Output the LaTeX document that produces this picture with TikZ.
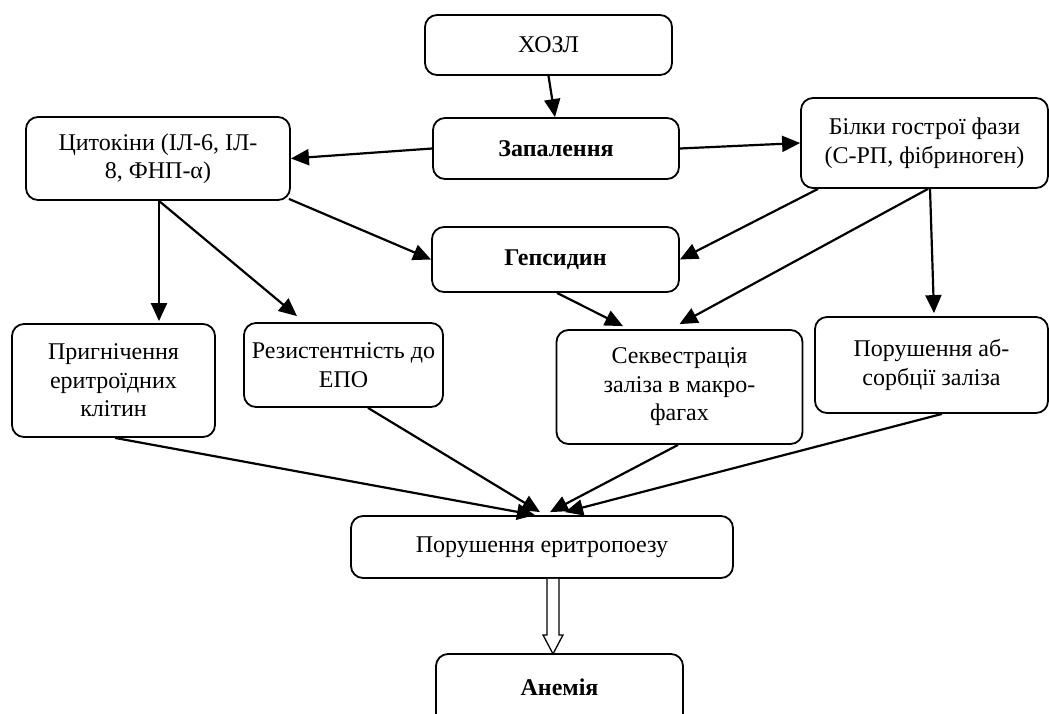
\documentclass[tikz,border=0pt]{standalone}
\usepackage{fontspec}
\setmainfont{Liberation Serif}
\usetikzlibrary{arrows.meta}
\begin{document}
\begin{tikzpicture}[x=1pt,y=-1pt,
  box/.style={draw, line width=1.8pt, rounded corners=12pt, inner sep=0pt, align=center,
    font=\fontsize{24}{28.5}\selectfont},
  bbox/.style={box, font=\fontsize{24}{28.5}\selectfont\bfseries},
  conn/.style={line width=2.2pt, -{Triangle[length=18pt,width=16pt]}},
  hollow/.style={draw, line width=1.3pt, fill=white}]
\clip (0,0) rectangle (1049,713);
\fill[white] (0,0) rectangle (1049,713);
\node[box, minimum width=247pt, minimum height=60pt] (hozl) at (548.5,45) {ХОЗЛ};
\node[bbox, minimum width=246pt, minimum height=61pt] (zap) at (556,148.5) {Запалення};
\node[box, minimum width=264pt, minimum height=83pt] (cyt) at (158,158.5) {Цитокіни (ІЛ-6, ІЛ-\\8, ФНП-α)};
\node[box, minimum width=247pt, minimum height=90pt] (bil) at (924.5,143) {Білки гострої фази\\(С-РП, фібриноген)};
\node[bbox, minimum width=247pt, minimum height=65pt] (hep) at (555.5,259.5) {Гепсидин};
\node[box, minimum width=203pt, minimum height=113pt] (prig) at (113.5,380.5) {Пригнічення\\еритроїдних\\клітин};
\node[box, minimum width=199pt, minimum height=84pt] (rez) at (343.5,365) {Резистентність до\\ЕПО};
\node[box, minimum width=246pt, minimum height=114pt] (sekv) at (679.5,387) {Секвестрація\\заліза в макро-\\фагах};
\node[box, minimum width=233pt, minimum height=96pt] (por) at (931.5,365) {Порушення аб-\\сорбції заліза};
\node[box, minimum width=382pt, minimum height=62pt] (erit) at (542,547) {Порушення еритропоезу};
\node[bbox, minimum width=247pt, minimum height=92pt] (anem) at (559.5,700) {\raisebox{25pt}{Анемія}};

\draw[conn] (hozl.south) -- ([xshift=-1pt]zap.north);
\draw[conn] (zap.west) -- (cyt.east);
\draw[conn] (zap.east) -- (bil.west);
\draw[conn] ([xshift=-2pt,yshift=2pt]cyt.south east) -- (hep.west);
\draw[conn] ([xshift=-106.5pt]bil.south) -- (hep.east);
\draw[conn] ([xshift=1pt]cyt.south) -- ([xshift=45.5pt,yshift=2pt]prig.north);
\draw[conn] ([xshift=1pt]cyt.south) -- ([xshift=-46.5pt,yshift=6pt]rez.north);
\draw[conn] ([xshift=1.5pt]hep.south) -- ([xshift=-56.5pt,yshift=3pt]sekv.north);
\draw[conn] ([xshift=3.5pt]bil.south) -- ([yshift=5pt]sekv.north);
\draw[conn] ([xshift=5.5pt]bil.south) -- ([xshift=2.5pt,yshift=3pt]por.north);
\draw[conn] ([xshift=1.5pt]prig.south) -- ([xshift=-7pt]erit.north);
\draw[conn] ([xshift=24.5pt]rez.south) -- ([xshift=-2pt,yshift=3pt]erit.north);
\draw[conn] ([xshift=-1.5pt]sekv.south) -- ([xshift=8pt,yshift=3pt]erit.north);
\draw[conn] ([xshift=10.5pt]por.south) -- ([xshift=23pt,yshift=3pt]erit.north);

\path[hollow] ([xshift=5pt]erit.south) -- ++(0,56) -- ++(-4,0) -- ++(10,19) -- ++(10,-19) -- ++(-4,0) -- ++(0,-56);
\end{tikzpicture}
\end{document}
